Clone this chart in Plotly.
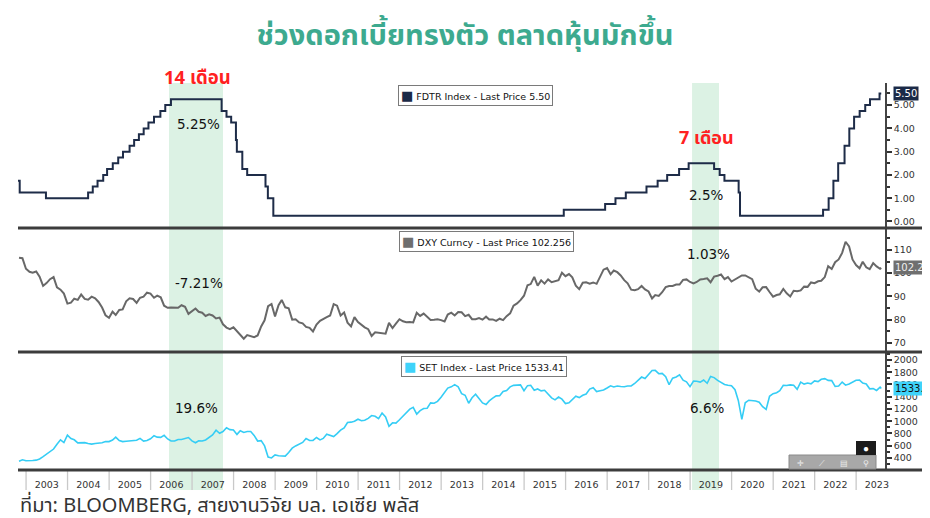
import pandas as pd
import plotly.graph_objects as go
from plotly.subplots import make_subplots

# ---------------- data ----------------
fdtr_dates = ["2002-10-22", "2002-11-06", "2003-06-25", "2004-06-30", "2004-08-10", "2004-09-21",
              "2004-11-10", "2004-12-14", "2005-02-02", "2005-03-22", "2005-05-03", "2005-06-30",
              "2005-08-09", "2005-09-20", "2005-11-01", "2005-12-13", "2006-01-31", "2006-03-28",
              "2006-05-10", "2006-06-29", "2007-09-18", "2007-10-31", "2007-12-11", "2008-01-22",
              "2008-01-30", "2008-03-18", "2008-04-30", "2008-10-08", "2008-10-29", "2008-12-16",
              "2015-12-16", "2016-12-14", "2017-03-15", "2017-06-14", "2017-12-13", "2018-03-21",
              "2018-06-13", "2018-09-26", "2018-12-19", "2019-07-31", "2019-09-18", "2019-10-30",
              "2020-03-03", "2020-03-15", "2022-03-16", "2022-05-04", "2022-06-15", "2022-07-27",
              "2022-09-21", "2022-11-02", "2022-12-14", "2023-02-01", "2023-03-22", "2023-05-03",
              "2023-07-26", "2023-08-10"]
fdtr_values = [1.75, 1.25, 1.00, 1.25, 1.50, 1.75, 2.00, 2.25, 2.50, 2.75, 3.00, 3.25, 3.50, 3.75,
               4.00, 4.25, 4.50, 4.75, 5.00, 5.25, 4.75, 4.50, 4.25, 3.50, 3.00, 2.25, 2.00, 1.50,
               1.00, 0.25, 0.50, 0.75, 1.00, 1.25, 1.50, 1.75, 2.00, 2.25, 2.50, 2.25, 2.00, 1.75,
               1.25, 0.25, 0.50, 1.00, 1.75, 2.50, 3.25, 4.00, 4.50, 4.75, 5.00, 5.25, 5.50, 5.50]

# monthly, Oct 2002 .. Jul 2023, plus last price
dxy_values = [106.6, 106.4, 101.9,
              100.6, 100.2, 100.7, 98.5, 94.5, 95.7, 97.4, 98.3, 93.9, 92.9, 91.2, 86.9,
              87.3, 89.0, 88.5, 90.8, 88.9, 88.6, 89.9, 89.2, 87.6, 85.2, 81.9, 80.8,
              83.4, 82.0, 84.2, 84.4, 87.9, 89.2, 88.9, 87.2, 89.4, 89.9, 91.6, 91.2,
              89.4, 90.3, 89.6, 86.0, 85.1, 85.2, 85.2, 85.1, 86.2, 85.5, 82.5, 83.7,
              84.8, 83.4, 83.0, 81.6, 82.3, 81.8, 80.5, 80.9, 78.0, 76.6, 75.9, 76.7,
              75.1, 73.8, 71.8, 73.4, 73.1, 72.5, 73.2, 77.1, 79.7, 85.8, 86.7, 81.4,
              86.2, 88.5, 85.3, 84.9, 80.0, 80.2, 78.8, 78.4, 76.9, 76.5, 74.9, 77.9,
              79.5, 80.4, 81.1, 81.8, 86.7, 86.0, 81.8, 83.1, 78.7, 77.1, 81.1, 79.0,
              77.6, 76.7, 75.9, 73.0, 74.6, 74.3, 74.3, 74.0, 78.6, 76.4, 78.3, 80.2,
              79.3, 78.9, 79.0, 78.8, 83.0, 81.6, 82.6, 81.2, 79.9, 80.0, 80.2, 79.8,
              79.2, 82.2, 83.0, 81.8, 83.3, 83.2, 81.5, 82.1, 80.2, 80.2, 80.7, 80.0,
              81.3, 80.1, 80.1, 79.5, 80.4, 79.8, 81.5, 82.7, 86.0, 87.0, 88.4, 90.3,
              94.8, 95.3, 98.4, 94.6, 96.9, 95.5, 97.3, 96.1, 96.4, 97.0, 100.2, 98.7,
              99.6, 98.2, 94.6, 93.1, 95.9, 96.1, 95.5, 96.0, 95.4, 98.4, 101.5, 102.2,
              99.5, 101.1, 100.4, 99.0, 97.0, 95.6, 92.9, 92.7, 93.1, 94.5, 93.0, 92.1,
              89.1, 90.6, 90.2, 91.8, 94.0, 94.5, 94.5, 95.1, 95.1, 97.1, 97.3, 96.2,
              95.6, 96.2, 97.3, 97.5, 97.8, 96.1, 98.5, 98.9, 99.4, 97.4, 98.3, 96.4,
              97.4, 98.1, 99.0, 99.0, 98.3, 97.4, 93.3, 92.1, 93.9, 94.0, 91.9, 89.9,
              90.6, 90.9, 93.2, 91.3, 90.0, 92.4, 92.2, 92.6, 94.2, 94.1, 96.0, 95.7,
              96.5, 96.7, 98.3, 103.0, 101.8, 104.7, 105.9, 108.7, 113.5, 111.5, 105.9, 103.5,
              102.1, 104.9, 102.5, 101.7, 104.3, 102.9, 101.9, 102.256]

set_values = [348, 370, 356,
              364, 359, 365, 384, 421, 461, 492, 546, 623, 696, 652, 772,
              718, 697, 647, 647, 650, 636, 627, 636, 640, 650, 670, 668,
              694, 741, 686, 668, 674, 676, 679, 690, 720, 676, 685, 714,
              764, 740, 736, 770, 711, 678, 677, 701, 701, 718, 734, 680,
              649, 682, 678, 694, 735, 776, 853, 804, 832, 894, 863, 858,
              785, 845, 817, 832, 832, 769, 677, 684, 597, 416, 401, 450,
              437, 431, 431, 491, 560, 597, 624, 654, 717, 686, 687, 735,
              696, 719, 788, 764, 750, 797, 854, 891, 980, 985, 1000, 1033,
              1008, 1016, 1047, 1093, 1080, 1041, 1133, 1070, 916, 974, 969, 1025,
              1085, 1143, 1197, 1228, 1117, 1172, 1207, 1213, 1299, 1294, 1324, 1392,
              1474, 1541, 1561, 1597, 1562, 1451, 1424, 1294, 1383, 1442, 1372, 1299,
              1274, 1332, 1376, 1414, 1415, 1485, 1502, 1561, 1585, 1585, 1593, 1498,
              1581, 1587, 1506, 1527, 1496, 1505, 1440, 1382, 1349, 1394, 1360, 1288,
              1301, 1347, 1408, 1386, 1424, 1445, 1524, 1548, 1483, 1497, 1511, 1543,
              1578, 1559, 1575, 1566, 1562, 1575, 1576, 1616, 1673, 1721, 1697, 1754,
              1827, 1830, 1776, 1780, 1727, 1596, 1702, 1722, 1756, 1669, 1642, 1564,
              1654, 1653, 1639, 1673, 1620, 1731, 1712, 1667, 1637, 1601, 1588, 1580,
              1514, 1340, 1030, 1302, 1343, 1339, 1329, 1311, 1237, 1194, 1408, 1449,
              1466, 1497, 1587, 1583, 1594, 1588, 1522, 1638, 1606, 1623, 1610, 1658,
              1648, 1685, 1695, 1667, 1663, 1568, 1576, 1639, 1589, 1609, 1635, 1669,
              1671, 1622, 1609, 1529, 1533, 1503, 1556, 1533.41]

monthly_dates = list(pd.date_range("2002-10-31", periods=len(dxy_values) - 1, freq="ME").strftime("%Y-%m-%d"))
series_dates = monthly_dates + ["2023-08-10"]

years = list(range(2003, 2024))
band_starts = ["2006-06-12", "2019-01-18"]
band_ends = ["2007-09-30", "2019-09-12"]

last_fdtr, last_dxy, last_set = 5.50, 102.256, 1533.41

# ---------------- figure ----------------
# the page body has an 8px margin, so the figure is drawn 8px right / down
OFF = 8
W, H = 930 - OFF, 518 - OFF
PL, PR, PT, PB = 18, 885, 83, 470          # plot-area edges in page pixels
ML, MT = PL - OFF, PT - OFF
MR, MB = W - (PR - OFF), H - (PB - OFF)
PW, PH = PR - PL, PB - PT

def px(xp):
    return (xp - PL) / PW

def py(yp):
    return (PB - yp) / PH

fig = make_subplots(rows=3, cols=1, shared_xaxes=True, vertical_spacing=0,
                    row_heights=[145, 124, 118])

fig.add_trace(go.Scatter(x=fdtr_dates, y=fdtr_values, mode="lines",
                         line=dict(color="#1e2c48", width=2, shape="hv"),
                         hoverinfo="skip", showlegend=False), row=1, col=1)
fig.add_trace(go.Scatter(x=series_dates, y=dxy_values, mode="lines",
                         line=dict(color="#686868", width=2),
                         hoverinfo="skip", showlegend=False), row=2, col=1)
fig.add_trace(go.Scatter(x=series_dates, y=set_values, mode="lines",
                         line=dict(color="#35cdf5", width=1.6),
                         hoverinfo="skip", showlegend=False), row=3, col=1)

tickfont = dict(family="DejaVu Sans", size=9.5, color="#333333")
fig.update_xaxes(range=["2002-10-22", "2023-09-12"], showgrid=False, zeroline=False,
                 showline=False, type="date", automargin=False)
fig.update_xaxes(row=3, col=1, dtick="M12", tick0="2003-01-01", ticklabelmode="period",
                 tickformat="%Y", ticks="outside", ticklen=6, tickcolor="rgba(0,0,0,0)",
                 tickfont=tickfont)
fig.update_yaxes(side="right", showgrid=False, zeroline=False, showline=True, automargin=False,
                 linecolor="#444444", linewidth=1.5, ticks="outside", ticklen=5,
                 tickcolor="#333333", tickwidth=1.5, tickfont=tickfont)
fig.update_yaxes(row=1, col=1, range=[-0.28, 5.95], tick0=0, dtick=1, tickformat=".2f",
                 minor=dict(dtick=0.5, ticks="outside", ticklen=3, tickcolor="#333333"))
fig.update_yaxes(row=2, col=1, range=[66.1, 119.4], tick0=70, dtick=10,
                 minor=dict(dtick=5, ticks="outside", ticklen=3, tickcolor="#333333"))
fig.update_yaxes(row=3, col=1, range=[204, 2130], tick0=400, dtick=200,
                 minor=dict(dtick=100, ticks="outside", ticklen=3, tickcolor="#333333"))

shapes = []
# shaded periods
for s, e in zip(band_starts, band_ends):
    shapes.append(dict(type="rect", xref="x3", yref="paper", x0=s, x1=e, y0=py(490), y1=1,
                       fillcolor="#dcf2e4", line=dict(width=0), layer="below"))
# year separators in the label band
for yr in years:
    shapes.append(dict(type="line", xref="x3", yref="paper", x0=f"{yr}-01-01", x1=f"{yr}-01-01",
                       y0=py(490), y1=py(469), line=dict(color="#c9c9c9", width=1.3)))
# panel separators
for yp in [228, 352, 470]:
    shapes.append(dict(type="line", xref="paper", yref="paper", x0=0, x1=px(930), y0=py(yp), y1=py(yp),
                       line=dict(color="#3c3c3c", width=3)))
# toolbar gadget
shapes.append(dict(type="rect", xref="paper", yref="paper", x0=px(789), x1=px(876), y0=py(469), y1=py(455),
                   fillcolor="#a8a8a8", line=dict(color="#8a8a8a", width=1)))
shapes.append(dict(type="rect", xref="paper", yref="paper", x0=px(856), x1=px(876), y0=py(455), y1=py(441),
                   fillcolor="#1c1c1c", line=dict(width=0)))

annotations = []

def note(text, xp, yp, font, xanchor="center", **kw):
    annotations.append(dict(xref="paper", yref="paper", x=px(xp), y=py(yp), showarrow=False,
                            xanchor=xanchor, yanchor="middle", text=text, font=font, **kw))

legend_font = dict(family="DejaVu Sans", size=9.5, color="#111111")
legends = [("#1b2a47", "FDTR Index - Last Price 5.50", 475, 95),
           ("#6e6e6e", "DXY Curncy - Last Price 102.256", 486, 241),
           ("#3fd3fa", "SET Index - Last Price 1533.41", 484, 366.5)]
for col, txt, xp, yp in legends:
    note(f"<span style='color:{col};font-size:13px'>■</span> {txt}", xp, yp, legend_font,
         bgcolor="white", bordercolor="#7a7a7a", borderwidth=1, borderpad=2)

# last-price tags
tags = [(last_fdtr, "y", "5.50", "#1b2a47", "white"),
        (last_dxy, "y2", "102.25", "#6f6f6f", "#f0f0f0"),
        (last_set, "y3", "1533.4", "#3fd3fa", "#111111")]
for val, yref, txt, bg, fc in tags:
    annotations.append(dict(xref="paper", yref=yref, x=px(893), y=val, xanchor="left",
                            yanchor="middle", showarrow=False, text=txt, bgcolor=bg, borderpad=1,
                            font=dict(family="DejaVu Sans", size=10, color=fc)))

thai = "Noto Sans Thai, Noto Sans Thai UI, Loma, Garuda, Tlwg Typist, sans-serif"
red_font_big = dict(family=thai, size=18.5, color="#ff2121")
red_font = dict(family=thai, size=18, color="#ff2121")
pct_font = dict(family="DejaVu Sans", size=13.5, color="#111111")
texts = [("<b>14 เดือน</b>", 197, 78, red_font_big), ("<b>7 เดือน</b>", 706, 138, red_font),
         ("5.25%", 198, 124, pct_font), ("2.5%", 706, 195, pct_font),
         ("-7.21%", 199, 283, pct_font), ("1.03%", 708, 254, pct_font),
         ("19.6%", 196, 408, pct_font), ("6.6%", 707, 408, pct_font)]
for txt, xp, yp, f in texts:
    note(txt, xp, yp, f)

# gadget glyphs
note("●", 866, 448, dict(size=10, color="white"))
for gx, g in zip([800, 822, 844, 866], ["✛", "⟋", "▤", "⚲"]):
    note(g, gx, 462, dict(size=8, color="#eeeeee"))

# source
note("ที่มา: BLOOMBERG, สายงานวิจัย บล. เอเซีย พลัส", 18, 505.5,
     dict(family=thai, size=20, color="#333333"), xanchor="left")

fig.update_layout(
    width=W, height=H,
    margin=dict(l=ML, r=MR, t=MT, b=MB, pad=0),
    paper_bgcolor="white", plot_bgcolor="white",
    showlegend=False,
    title=dict(text="<b>ช่วงดอกเบี้ยทรงตัว ตลาดหุ้นมักขึ้น</b>", x=(465 - OFF) / W, xanchor="center",
               y=1 - (35 - OFF) / H, yanchor="middle",
               font=dict(family=thai, size=29, color="#3daa8f")),
    shapes=shapes, annotations=annotations,
)

fig.write_html("out.html")
